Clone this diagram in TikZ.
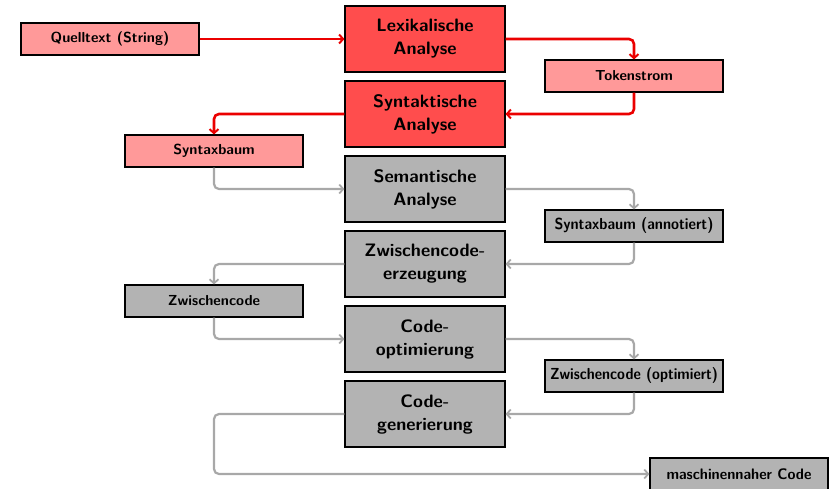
\documentclass[tikz,border=0pt]{standalone}
\usepackage{fontspec}
\usepackage{graphicx}
\usetikzlibrary{arrows.meta,shadows}
\definecolor{bigred}{RGB}{255,77,77}
\definecolor{smallred}{RGB}{255,153,153}
\definecolor{boxgray}{RGB}{179,179,179}
\definecolor{arrowgray}{RGB}{168,168,168}
\definecolor{arrowred}{RGB}{235,0,0}
\tikzset{
  phase/.style={draw=black, line width=1.1pt, minimum width=160pt, minimum height=66pt,
    align=center, inner sep=2pt, font=\sffamily\bfseries\fontsize{18}{23}\selectfont,
    drop shadow={shadow xshift=1pt, shadow yshift=-1pt, opacity=0.35}},
  data/.style={draw=black, line width=1.1pt, minimum width=178pt, minimum height=32pt,
    align=center, inner sep=2pt, font=\sffamily\bfseries\fontsize{14.5}{17}\selectfont,
    drop shadow={shadow xshift=1pt, shadow yshift=-1pt, opacity=0.35}},
  redphase/.style={phase, fill=bigred},
  grayphase/.style={phase, fill=boxgray},
  reddata/.style={data, fill=smallred},
  graydata/.style={data, fill=boxgray},
  redflow/.style={draw=arrowred, line width=2.6pt, rounded corners=5pt,
    -{Straight Barb[length=4pt,width=9pt,line width=2pt]}},
  grayflow/.style={draw=arrowgray, line width=2.2pt, rounded corners=5pt,
    -{Straight Barb[length=4pt,width=9pt,line width=1.8pt]}}
}
\begin{document}
\begin{tikzpicture}[x=1pt,y=-1pt]
\useasboundingbox (0,0) rectangle (829,488);
% phases
\node[redphase]  (lex) at (425,39)  {Lexikalische\\Analyse};
\node[redphase]  (syn) at (425,114) {Syntaktische\\Analyse};
\node[grayphase] (sem) at (425,189) {Semantische\\Analyse};
\node[grayphase] (zwe) at (425,264) {Zwischencode-\\erzeugung};
\node[grayphase] (opt) at (425,339) {Code-\\optimierung};
\node[grayphase] (gen) at (425,414) {Code-\\generierung};
% data
\node[reddata]  (src) at (110,39)  {Quelltext (String)};
\node[reddata]  (tok) at (634,76)  {Tokenstrom};
\node[reddata]  (sb)  at (214,151) {Syntaxbaum};
\node[graydata] (ann) at (634,226) {\resizebox{159pt}{1.1\height}{Syntaxbaum (annotiert)}};
\node[graydata] (zc)  at (214,301) {Zwischencode};
\node[graydata] (zco) at (634,376) {\resizebox{168pt}{1.1\height}{Zwischencode (optimiert)}};
\node[graydata] (mc)  at (739,474) {\resizebox{145pt}{1.05\height}{maschinennaher Code}};
% flows
\draw[redflow] (src.east) -- (lex.west);
\draw[redflow] (lex.east) -| (tok.north);
\draw[redflow] (tok.south) |- (syn.east);
\draw[redflow] (syn.west) -| (sb.north);
\draw[grayflow] (sb.south) |- (sem.west);
\draw[grayflow] (sem.east) -| (ann.north);
\draw[grayflow] (ann.south) |- (zwe.east);
\draw[grayflow] (zwe.west) -| (zc.north);
\draw[grayflow] (zc.south) |- (opt.west);
\draw[grayflow] (opt.east) -| (zco.north);
\draw[grayflow] (zco.south) |- (gen.east);
\coordinate (turn) at (zc.south |- mc.west);
\draw[grayflow] (gen.west) -| (turn) -- (mc.west);
\end{tikzpicture}
\end{document}
